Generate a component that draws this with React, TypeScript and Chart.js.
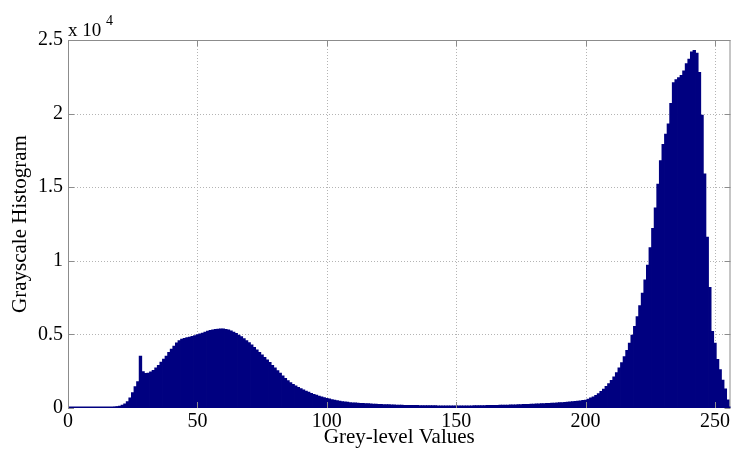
import React, { useEffect, useRef } from "react";
import { Chart, registerables } from "chart.js";

Chart.register(...registerables);

// Grey levels 0..255 (bin index)
const greyLevels: number[] = Array.from({ length: 256 }, (_, i) => i);

// Histogram counts
const darkTail: number[] = [
  0, 0, 0, 0, 0, 0, 0, 0, 0, 0,
  0, 0, 0, 5, 10, 20, 30, 45, 60, 90,
  130, 190, 280, 430, 680, 1040, 1450, 1790,
];

const shadowPeak: number[] = [
  3530, 2470, 2350, 2360, 2450, 2560, 2720, 2900, 3120, 3320,
  3530, 3770, 3990, 4210, 4420, 4570, 4670, 4730, 4780, 4820,
  4870, 4920, 4980, 5030, 5090, 5150, 5220, 5280, 5310, 5340,
  5360, 5370, 5370, 5340, 5300, 5240, 5160, 5060, 4950, 4840,
  4710, 4580, 4440, 4280, 4110, 3940, 3780, 3610, 3440, 3270,
  3090, 2900, 2720, 2540, 2360, 2180, 2010, 1860, 1730, 1610,
  1500, 1400, 1320, 1230, 1150, 1070, 1000, 930, 870, 810,
  760, 710, 660, 610, 570, 530, 500, 460, 430,
];

const midTones: number[] = [
  410, 390, 370, 350, 340, 330, 320, 310, 300, 290,
  280, 270, 260, 250, 240, 230, 225, 220, 210, 205,
  200, 195, 190, 185, 180, 178, 175, 172, 170, 168,
  165, 163, 160, 158, 155, 153, 150, 148, 146, 145,
  143, 142, 141, 140, 141, 142, 143, 145, 147, 150,
  153, 156, 160, 163, 166, 169, 172, 176, 180, 184,
  188, 192, 197, 202, 207, 212, 218, 224, 230, 237,
  243, 250, 257, 264, 272, 280, 288, 297, 306, 315,
  325, 335, 345, 355, 365, 380, 395, 410, 425, 440,
  460, 480, 510,
];

const brightPeak: number[] = [
  540, 600, 680, 760, 860, 980, 1120, 1280, 1460, 1660,
  1880, 2120, 2400, 2720, 3080, 3480, 3920, 4400, 4950, 5550,
  6200, 6950, 7800, 8700, 9700, 10900, 12200, 13600, 15200, 16800,
  17900, 18600, 19300, 20700, 22100, 22300, 22450, 22600, 22900, 23400,
  23700, 24200, 24300, 24100, 22800, 19900, 15900, 11600, 8200, 5200,
  4400, 3300, 2600, 1900, 1300, 550,
];

const counts: number[] = [...darkTail, ...shadowPeak, ...midTones, ...brightPeak];

const xTickValues: number[] = [0, 50, 100, 150, 200, 250];
const yTickValues: number[] = [0, 5000, 10000, 15000, 20000, 25000];

const BAR_COLOR = "#000080";
const FONT = "'Liberation Serif', 'Times New Roman', serif";
const TEXT = "#000000";
const BOX = "#8c8c8c";
const GRID = "#b4b4b4";

const framePlugin = {
  id: "matlabFrame",
  beforeDatasetsDraw(chart: any) {
    const { ctx, chartArea: a, scales } = chart;
    ctx.save();
    ctx.strokeStyle = GRID;
    ctx.lineWidth = 1;
    ctx.setLineDash([1, 2]);
    for (const v of xTickValues) {
      if (v === 0) continue;
      const x = Math.round(scales.x.getPixelForValue(v)) + 0.5;
      ctx.beginPath();
      ctx.moveTo(x, a.top);
      ctx.lineTo(x, a.bottom);
      ctx.stroke();
    }
    for (const v of yTickValues) {
      if (v === 0 || v === 25000) continue;
      const y = Math.round(scales.y.getPixelForValue(v)) + 0.5;
      ctx.beginPath();
      ctx.moveTo(a.left, y);
      ctx.lineTo(a.right, y);
      ctx.stroke();
    }
    ctx.restore();
  },
  afterDatasetsDraw(chart: any) {
    const { ctx, chartArea: a, scales } = chart;
    ctx.save();
    // box
    ctx.strokeStyle = BOX;
    ctx.lineWidth = 1;
    ctx.strokeRect(a.left + 0.5, a.top + 0.5, a.right - a.left - 1, a.bottom - a.top - 1);
    // baseline
    ctx.strokeStyle = BAR_COLOR;
    ctx.lineWidth = 1.5;
    ctx.beginPath();
    ctx.moveTo(a.left, a.bottom - 0.75);
    ctx.lineTo(a.right, a.bottom - 0.75);
    ctx.stroke();
    // inward ticks
    ctx.strokeStyle = BOX;
    ctx.lineWidth = 1;
    const len = 6;
    for (const v of xTickValues) {
      const x = Math.round(scales.x.getPixelForValue(v)) + 0.5;
      ctx.beginPath();
      ctx.moveTo(x, a.bottom);
      ctx.lineTo(x, a.bottom - len);
      ctx.moveTo(x, a.top);
      ctx.lineTo(x, a.top + len);
      ctx.stroke();
    }
    for (const v of yTickValues) {
      const y = Math.round(scales.y.getPixelForValue(v)) + 0.5;
      ctx.beginPath();
      ctx.moveTo(a.left, y);
      ctx.lineTo(a.left + len, y);
      ctx.moveTo(a.right, y);
      ctx.lineTo(a.right - len, y);
      ctx.stroke();
    }
    // exponent label
    ctx.fillStyle = TEXT;
    ctx.textBaseline = "alphabetic";
    ctx.textAlign = "left";
    ctx.font = `19px ${FONT}`;
    ctx.fillText("x 10", a.left, a.top - 4);
    ctx.font = `14px ${FONT}`;
    ctx.fillText("4", a.left + 38, a.top - 15);
    ctx.restore();
  },
};

export default function App() {
  const ref = useRef<HTMLCanvasElement>(null);

  useEffect(() => {
    const canvas = ref.current;
    if (!canvas) return;
    const points = greyLevels.map((g, i) => ({ x: g, y: counts[i] }));
    const chart = new Chart(canvas, {
      type: "bar",
      data: {
        datasets: [
          {
            data: points as any,
            backgroundColor: BAR_COLOR,
            borderWidth: 0,
            barPercentage: 1,
            categoryPercentage: 1,
            inflateAmount: 0.4,
          } as any,
        ],
      },
      options: {
        animation: false,
        responsive: false,
        devicePixelRatio: 1,
        layout: { padding: { top: 40, right: 1, left: 0, bottom: 0 } },
        plugins: {
          legend: { display: false },
          tooltip: { enabled: false },
        },
        scales: {
          x: {
            type: "linear",
            min: 0,
            max: 256,
            offset: false,
            grid: { display: false, drawTicks: false, offset: false },
            border: { display: false },
            ticks: {
              color: TEXT,
              font: { family: FONT, size: 20 },
              padding: 2,
              maxRotation: 0,
              autoSkip: false,
              callback: (v: any) => String(v),
            },
            afterBuildTicks: (s: any) => {
              s.ticks = xTickValues.map((v) => ({ value: v }));
            },
            afterFit: (s: any) => {
              s.height = 46;
            },
            title: {
              display: true,
              text: "Grey-level Values",
              color: TEXT,
              font: { family: FONT, size: 21 },
              padding: { top: 0, bottom: 4 },
            },
          },
          y: {
            type: "linear",
            min: 0,
            max: 25000,
            grid: { display: false, drawTicks: false },
            border: { display: false },
            ticks: {
              color: TEXT,
              font: { family: FONT, size: 20 },
              padding: 5,
              callback: (v: any) => String(Number(v) / 10000),
            },
            afterBuildTicks: (s: any) => {
              s.ticks = yTickValues.map((v) => ({ value: v }));
            },
            afterFit: (s: any) => {
              s.width = 68;
            },
            title: {
              display: true,
              text: "Grayscale Histogram",
              color: TEXT,
              font: { family: FONT, size: 21 },
              padding: { top: 8, bottom: 0 },
            },
          },
        },
      },
      plugins: [framePlugin],
    });
    return () => chart.destroy();
  }, []);

  return (
    <div
      style={{
        position: "absolute",
        left: 0,
        top: 0,
        width: 732,
        height: 454,
        background: "#ffffff",
      }}
    >
      <canvas ref={ref} width={732} height={454} style={{ display: "block" }} />
    </div>
  );
}
